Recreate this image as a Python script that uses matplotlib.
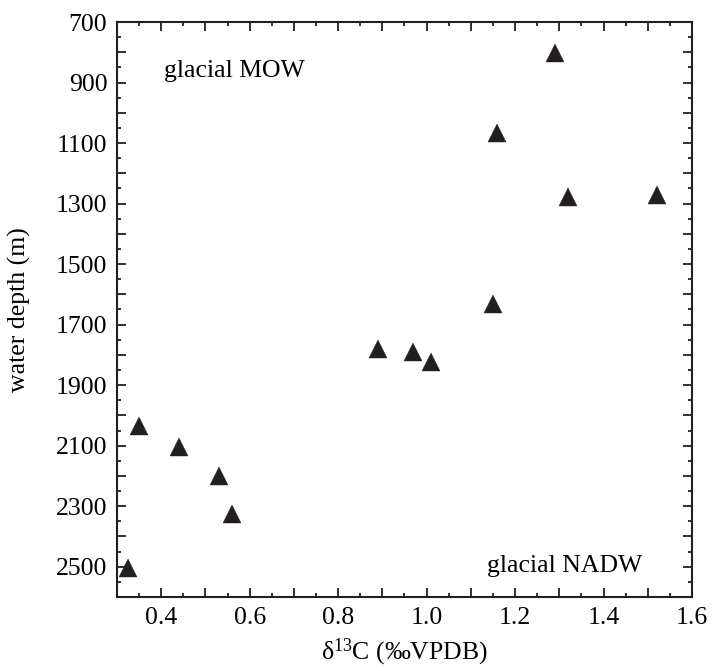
import numpy as np
import matplotlib
matplotlib.use('Agg')
import matplotlib.pyplot as plt
from matplotlib.ticker import MultipleLocator, FuncFormatter

plt.rcParams['font.family'] = ['Liberation Serif', 'DejaVu Serif']
plt.rcParams['mathtext.fontset'] = 'custom'
plt.rcParams['mathtext.rm'] = 'Liberation Serif'
plt.rcParams['mathtext.it'] = 'Liberation Serif:italic'

# benthic d13C vs core water depth
d13c = [1.29, 1.16, 1.32, 1.52, 1.15, 0.89, 0.97, 1.01,
        0.35, 0.44, 0.53, 0.56, 0.325]
depth = [802, 1067, 1278, 1272, 1632, 1780, 1790, 1823,
         2035, 2104, 2200, 2326, 2504]

ink = '#231f20'
fs = 18.5

fig = plt.figure(figsize=(7.12, 6.71), dpi=100)
ax = fig.add_axes([0.1643, 0.1103, 0.8076, 0.8569])

ax.plot(d13c, depth, ls='none', marker='^', ms=12.5, color=ink, mec=ink, mew=0.3)

ax.set_xlim(0.3, 1.6)
ax.set_ylim(2600, 700)

# major ticks every 0.1 / 100 m, but only every other one labelled
ax.xaxis.set_major_locator(MultipleLocator(0.1))
ax.xaxis.set_minor_locator(MultipleLocator(0.05))
ax.yaxis.set_major_locator(MultipleLocator(100))
ax.yaxis.set_minor_locator(MultipleLocator(50))


def xfmt(v, pos):
    k = int(round(v * 10))
    return f'{v:.1f}' if k % 2 == 0 else ''


def yfmt(v, pos):
    k = int(round(v))
    return f'{k}' if (k - 700) % 200 == 0 else ''


ax.xaxis.set_major_formatter(FuncFormatter(xfmt))
ax.yaxis.set_major_formatter(FuncFormatter(yfmt))

ax.tick_params(which='both', direction='in', top=True, right=True,
               colors=ink, labelcolor='black', labelsize=fs, width=1.3)
ax.tick_params(which='major', length=6.5, pad=7)
ax.tick_params(which='minor', length=3.2)
for s in ax.spines.values():
    s.set_linewidth(1.5)
    s.set_color(ink)

ax.set_xlabel(r'δ$^{\mathregular{13}}$C (‰VPDB)', fontsize=fs, labelpad=6)
ax.set_ylabel('water depth (m)', fontsize=fs, labelpad=18)

ax.text(0.082, 0.904, 'glacial MOW', transform=ax.transAxes, fontsize=fs,
        ha='left', va='baseline')
ax.text(0.643, 0.044, 'glacial NADW', transform=ax.transAxes, fontsize=fs,
        ha='left', va='baseline')

fig.savefig('out.png', dpi=100)
